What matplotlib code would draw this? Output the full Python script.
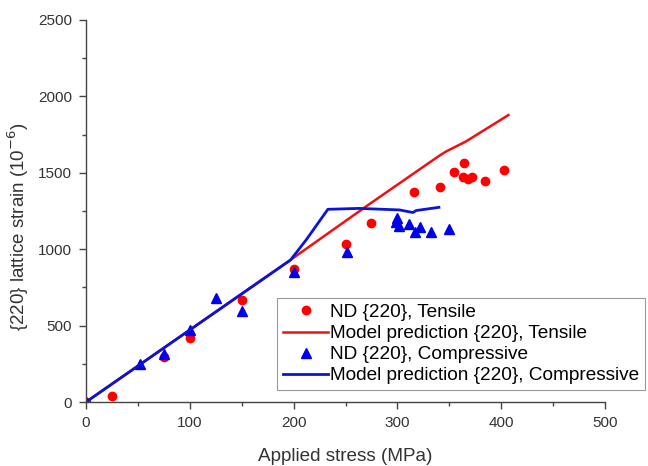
import numpy as np
import matplotlib
matplotlib.use("Agg")
import matplotlib.pyplot as plt
from matplotlib.ticker import MultipleLocator

plt.rcParams['font.family'] = ['Liberation Sans', 'DejaVu Sans']

# measured lattice strain, tensile
ten_stress = [0, 25, 75, 100, 150, 200, 250, 275, 316, 341, 355, 363, 364, 368, 372, 384, 403]
ten_strain = [0, 41, 292, 421, 668, 868, 1032, 1174, 1374, 1409, 1503, 1475, 1566, 1459, 1475, 1446, 1518]

# model, tensile
mod_ten_stress = [0, 197, 273, 340, 347, 366, 407]
mod_ten_strain = [0, 930, 1295, 1610, 1640, 1705, 1878]

# measured lattice strain, compressive
com_stress = [0, 52, 75, 100, 125, 150, 200, 251, 300, 299, 302, 311, 317, 322, 332, 350]
com_strain = [0, 247, 314, 471, 678, 596, 853, 984, 1205, 1181, 1152, 1163, 1112, 1148, 1112, 1130]

# model, compressive
mod_com_stress = [0, 197, 212, 233, 263, 302, 315, 318, 340]
mod_com_strain = [0, 929, 1060, 1261, 1267, 1257, 1240, 1253, 1274]

fig = plt.figure(figsize=(6.48, 4.66), dpi=100)
ax = fig.add_axes([86/648, 1-402/466, 519/648, 382/466])

ax.plot(ten_stress, ten_strain, 'o', color='#ff0000', markersize=6, label='ND {220}, Tensile')
ax.plot(mod_ten_stress, mod_ten_strain, '-', color='#ee1111', lw=1.8, label='Model prediction {220}, Tensile')
ax.plot(com_stress, com_strain, '^', color='#0000ee', markersize=7, label='ND {220}, Compressive')
ax.plot(mod_com_stress, mod_com_strain, '-', color='#0a14d8', lw=2.0, label='Model prediction {220}, Compressive')

ax.set_xlim(0, 500)
ax.set_ylim(0, 2500)
ax.xaxis.set_major_locator(MultipleLocator(100))
ax.xaxis.set_minor_locator(MultipleLocator(50))
ax.yaxis.set_major_locator(MultipleLocator(500))
ax.yaxis.set_minor_locator(MultipleLocator(250))

for s in ['top', 'right']:
    ax.spines[s].set_visible(False)
for s in ['left', 'bottom']:
    ax.spines[s].set_color('#444444')
    ax.spines[s].set_linewidth(1.0)
ax.tick_params(which='major', direction='out', length=5, width=1, color='#444444',
               labelsize=11, labelcolor='#333333', pad=5)
ax.tick_params(which='minor', direction='out', length=3, width=1, color='#444444')

ax.set_xlabel('Applied stress (MPa)', fontsize=13.6, color='#333333', labelpad=13)
ax.set_ylabel('{220} lattice strain (10$^{-6}$)', fontsize=13.5, color='#333333')
ax.yaxis.set_label_coords(-0.106, 0.46)

leg = ax.legend(loc='lower left', bbox_to_anchor=(0.368, 0.031), fontsize=13.7,
                frameon=True, fancybox=False, edgecolor='#999999', framealpha=1,
                handlelength=2.4, handletextpad=0.1, labelspacing=0.2,
                borderpad=0.3, borderaxespad=0)
leg.get_frame().set_linewidth(0.8)

fig.savefig('out.png', dpi=100)
